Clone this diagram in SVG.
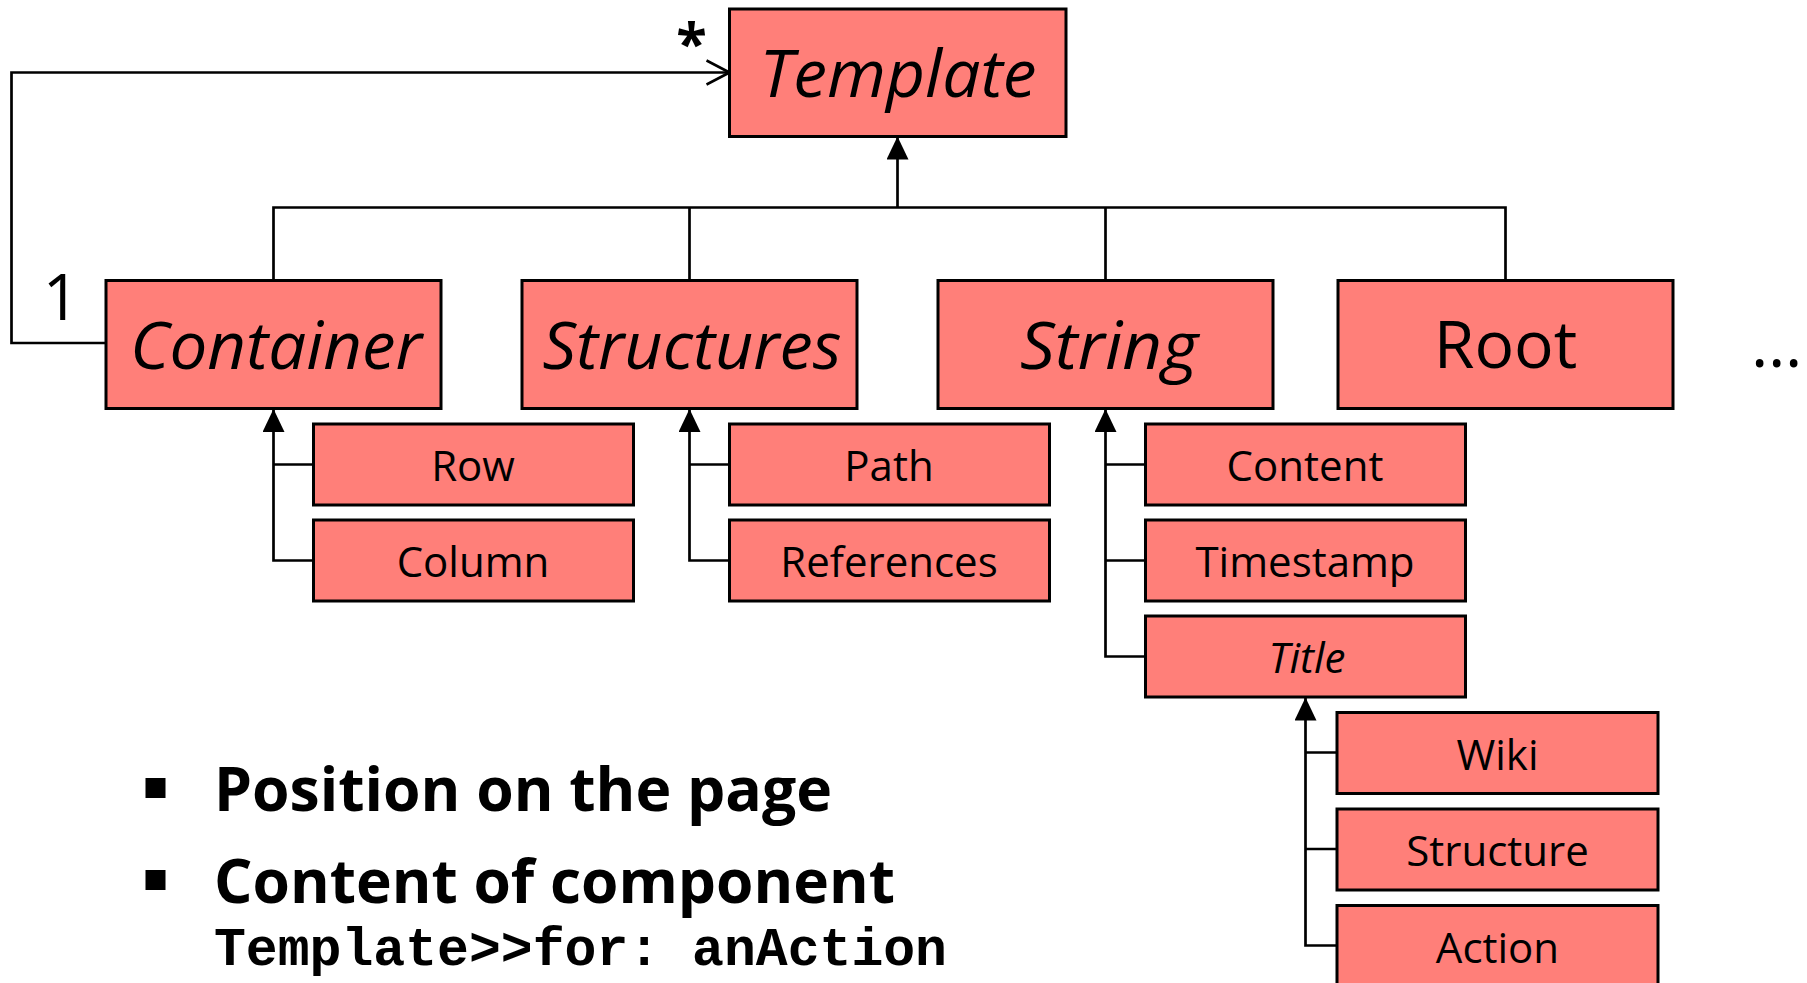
<svg xmlns="http://www.w3.org/2000/svg" width="1807" height="983" viewBox="0 0 1807 983">
<style>
.box{fill:#FF7F79;stroke:#000;stroke-width:3}
.conn{fill:none;stroke:#000;stroke-width:2.7}
.big{font-family:"Open Sans","Noto Sans",sans-serif;font-size:66px;fill:#000;text-anchor:middle}
.it{font-style:italic}
.small{font-family:"Open Sans","Noto Sans",sans-serif;font-size:42px;fill:#000;text-anchor:middle}
.bullet{font-family:"Open Sans","Noto Sans",sans-serif;font-size:60px;font-weight:bold;fill:#000}
.mono{font-family:"Liberation Mono","DejaVu Sans Mono",monospace;font-size:53px;font-weight:bold;fill:#000}
</style>
<defs>
<marker id="tri" viewBox="0 0 23 22" refX="23" refY="11" markerWidth="23" markerHeight="22" markerUnits="userSpaceOnUse" orient="auto"><path d="M0,0 L23,11 L0,22 Z" fill="#000"/></marker>
<marker id="open" viewBox="0 0 26 28" refX="24" refY="14" markerWidth="26" markerHeight="28" markerUnits="userSpaceOnUse" orient="auto"><path d="M1,2 L24,14 L1,26" fill="none" stroke="#000" stroke-width="2.7"/></marker>
</defs>
<g id="connectors">
<path class="conn" d="M106,343 H11.5 V72.5 H729.5" marker-end="url(#open)"/>
<path class="conn" d="M273.5,280.5 V207.5 H1505.5 V280.5"/>
<path class="conn" d="M689.5,280.5 V207.5"/>
<path class="conn" d="M1105.5,280.5 V207.5"/>
<path class="conn" d="M897.5,207.5 V136.5" marker-end="url(#tri)"/>
<path class="conn" d="M313.5,560.5 H273.5 V409" marker-end="url(#tri)"/>
<path class="conn" d="M313.5,464.5 H273.5"/>
<path class="conn" d="M729.5,560.5 H689.5 V409" marker-end="url(#tri)"/>
<path class="conn" d="M729.5,464.5 H689.5"/>
<path class="conn" d="M1145.5,656.5 H1105.5 V409" marker-end="url(#tri)"/>
<path class="conn" d="M1145.5,464.5 H1105.5 M1145.5,560.5 H1105.5"/>
<path class="conn" d="M1337,945.5 H1305.5 V697.5" marker-end="url(#tri)"/>
<path class="conn" d="M1337,752.5 H1305.5 M1337,849 H1305.5"/>
</g>
<g id="template"><rect class="box" x="729.5" y="9" width="336.5" height="127.5"/><text class="big it" x="898" y="97" textLength="277" lengthAdjust="spacingAndGlyphs">Template</text></g>
<g id="container"><rect class="box" x="106" y="280.5" width="335" height="128"/><text class="big it" x="276" y="369" textLength="292" lengthAdjust="spacingAndGlyphs">Container</text></g>
<g id="structures"><rect class="box" x="522" y="280.5" width="335" height="128"/><text class="big it" x="692" y="369" textLength="299" lengthAdjust="spacingAndGlyphs">Structures</text></g>
<g id="string"><rect class="box" x="938" y="280.5" width="335" height="128"/><text class="big it" x="1109" y="369" textLength="178" lengthAdjust="spacingAndGlyphs">String</text></g>
<g id="root"><rect class="box" x="1338" y="280.5" width="335" height="128"/><text class="big" x="1505.5" y="368">Root</text></g>
<g id="row"><rect class="box" x="313.5" y="424" width="320" height="81"/><text class="small" x="473" y="480.5">Row</text></g>
<g id="column"><rect class="box" x="313.5" y="520" width="320" height="81"/><text class="small" x="473" y="576.5">Column</text></g>
<g id="path"><rect class="box" x="729.5" y="424" width="320" height="81"/><text class="small" x="889" y="480.5">Path</text></g>
<g id="references"><rect class="box" x="729.5" y="520" width="320" height="81"/><text class="small" x="889" y="576.5">References</text></g>
<g id="content"><rect class="box" x="1145.5" y="424" width="320" height="81"/><text class="small" x="1305" y="480.5">Content</text></g>
<g id="timestamp"><rect class="box" x="1145.5" y="520" width="320" height="81"/><text class="small" x="1305" y="576.5">Timestamp</text></g>
<g id="title"><rect class="box" x="1145.5" y="616" width="320" height="81"/><text class="small it" x="1307" y="672.5">Title</text></g>
<g id="wiki"><rect class="box" x="1337" y="712.5" width="321" height="81"/><text class="small" x="1497.5" y="769.5">Wiki</text></g>
<g id="structure"><rect class="box" x="1337" y="809" width="321" height="81"/><text class="small" x="1497.5" y="866">Structure</text></g>
<g id="action"><rect class="box" x="1337" y="905.5" width="321" height="81"/><text class="small" x="1497.5" y="962.5">Action</text></g>
<g id="labels">
<text x="691.5" y="63" font-family="Open Sans, sans-serif" font-size="56" font-weight="bold" text-anchor="middle">*</text>
<text x="61" y="320" font-family="Open Sans, sans-serif" font-size="64" text-anchor="middle">1</text>
<text x="1751" y="367" font-family="Open Sans, sans-serif" font-size="66">…</text>
</g>
<g id="bullets">
<rect x="145.5" y="778" width="20" height="20" fill="#000"/>
<text class="bullet" x="214" y="810.5" textLength="618" lengthAdjust="spacingAndGlyphs">Position on the page</text>
<rect x="145.5" y="870" width="20" height="20" fill="#000"/>
<text class="bullet" x="214" y="902.5" textLength="681" lengthAdjust="spacingAndGlyphs">Content of component</text>
<text class="mono" x="214" y="965" textLength="733" lengthAdjust="spacingAndGlyphs">Template&gt;&gt;for: anAction</text>
</g>
</svg>
